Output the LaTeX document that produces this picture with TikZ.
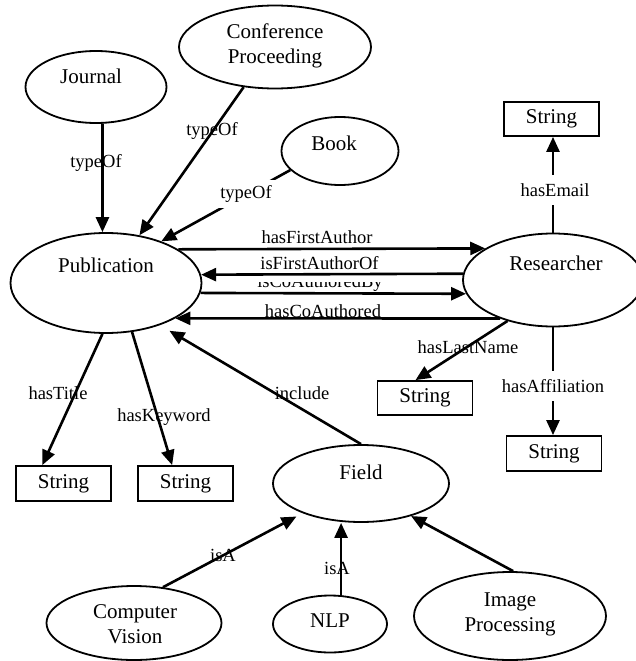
\documentclass[tikz,border=0pt]{standalone}
\usepackage{fontspec}
\setmainfont{Liberation Serif}
\usetikzlibrary{shapes.geometric,arrows.meta}
\begin{document}
\begin{tikzpicture}[x=1pt,y=-1pt,
  ell/.style={draw, ellipse, line width=1.8pt, inner sep=0pt},
  strbox/.style={draw, rectangle, line width=1.8pt, inner sep=0pt,
    minimum width=95pt, minimum height=34pt, font=\fontsize{21}{24}\selectfont},
  ntext/.style={anchor=base, font=\fontsize{21}{25}\selectfont, inner sep=0pt},
  mtext/.style={align=center, font=\fontsize{21}{25}\selectfont, inner sep=0pt},
  lbl/.style={font=\fontsize{18.5}{22}\selectfont, inner sep=1pt},
  wlbl/.style={lbl, fill=white, inner xsep=3pt, inner ysep=8pt},
  conn/.style={line width=2.6pt, -{Triangle[length=15pt,width=13pt]}},
]
\useasboundingbox (0,0) rectangle (636,661);
\clip (0,0) rectangle (636,661);

% ellipses
\node[ell, minimum width=141pt, minimum height=72pt] (jour) at (96,87) {};
\node[ntext] (jourt) at (91,84) {Journal};
\node[ell, minimum width=192pt, minimum height=83pt] (conf) at (275,47) {};
\node[mtext] (conft) at (275,45.5) {Conference\\Proceeding};
\node[ell, minimum width=117pt, minimum height=68pt] (book) at (340,151) {};
\node[ntext] (bookt) at (334,150) {Book};
\node[ell, minimum width=191pt, minimum height=100pt] (pub) at (106,283) {};
\node[ntext] (pubt) at (106,272) {Publication};
\node[ell, minimum width=180pt, minimum height=93pt] (res) at (553,280) {};
\node[ntext] (rest) at (556,270) {Researcher};
\node[ell, minimum width=176pt, minimum height=77pt] (field) at (361,483.5) {};
\node[ntext] (fieldt) at (361,479) {Field};
\node[ell, minimum width=175pt, minimum height=74pt] (cv) at (134,623) {};
\node[mtext] (cvt) at (135,624) {Computer\\Vision};
\node[ell, minimum width=114pt, minimum height=57pt] (nlp) at (330,624) {};
\node[ntext] (nlpt) at (330,627) {NLP};
\node[ell, minimum width=192pt, minimum height=88pt] (ip) at (510,616) {};
\node[mtext] (ipt) at (510,614) {Image\\Processing};

% string boxes
\node[strbox] (s1) at (551.5,119) {String};
\node[strbox] (s2) at (425,398) {String};
\node[strbox, minimum height=35pt] (s3) at (554,453.5) {String};
\node[strbox, minimum height=35pt] (s4) at (63.5,483.5) {String};
\node[strbox, minimum height=35pt] (s5) at (185.5,483.5) {String};

% labels drawn under lines
\node[lbl] (l1) at (96,163) {typeOf};
\node[lbl] (l2) at (212,131) {typeOf};
\node[lbl] (l4) at (317,237) {hasFirstAuthor};
\node[lbl] (l5) at (319.5,263) {isFirstAuthorOf};
\begin{scope}
  \clip (250,282) rectangle (390,300);
  \node[lbl] (l6) at (320,283) {isCoAuthoredBy};
\end{scope}
\node[lbl] (l7) at (323,311) {hasCoAuthored};
\node[lbl] (l9) at (468,347) {hasLastName};
\node[lbl] (l11) at (58,393) {hasTitle};
\node[lbl] (l12) at (164,417) {hasKeyword};
\node[lbl] (l13) at (302,393) {include};
\node[lbl] (l14) at (223,555) {isA};
\node[lbl] (l15) at (337,568) {isA};

% connectors
\draw[conn] (jour.-80.5) -- (pub.94.6);
\draw[conn] (conf.-128.2) -- (pub.55.8);
\draw[conn] (book.-159) -- (pub.37.5);
\draw[conn] (pub.25.9) -- (res.155.2);
\draw[conn] (res.176.15) -- (pub.5.5);
\draw[conn] (pub.-6.7) -- (res.189.3);
\draw[conn] (res.216.2) -- (pub.-27.2);
\draw[conn] (res.north) -- (res.north |- s1.south);
\draw[conn] (res.-138.7) -- (s2.118);
\draw[conn] (res.south) -- (res.south |- s3.north);
\draw[conn] (pub.-94.6) -- (s4.139.3);
\draw[conn] (pub.-62.5) -- (s5.126.1);
\draw[conn, shorten >=11pt] (field.north) -- (pub.-38.3);
\draw[conn, shorten >=7pt] (cv.51.1) -- (field.-153.1);
\draw[conn] (nlp.69) -- (nlp.69 |- field.south);
\draw[conn] (ip.86) -- (field.-33);

% labels with white background
\node[wlbl, inner ysep=5pt, inner xsep=4pt] (l3) at (246,194) {typeOf};
\node[wlbl] (l8) at (555,190) {hasEmail};
\node[wlbl] (l10) at (553,386) {hasAffiliation};
\end{tikzpicture}
\end{document}
